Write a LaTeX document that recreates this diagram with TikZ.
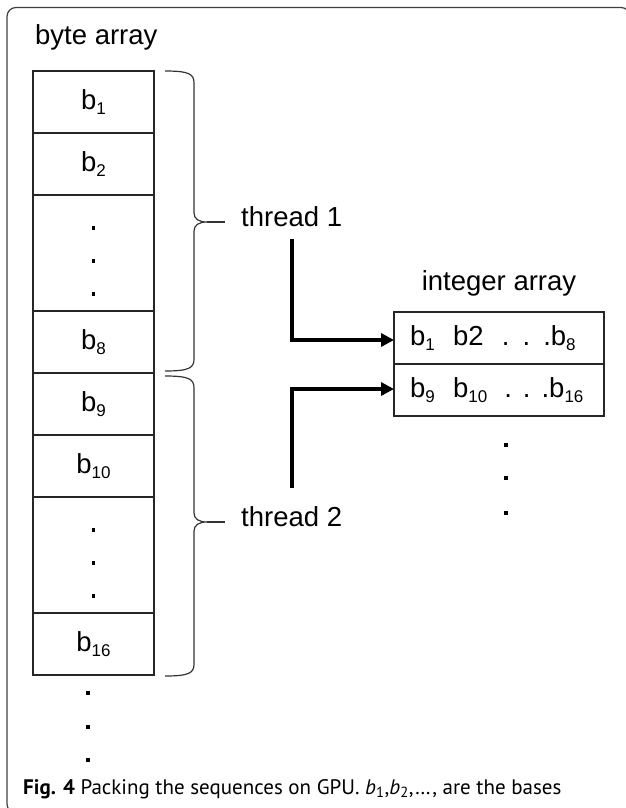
\documentclass[tikz,border=0pt]{standalone}
\usepackage{fontspec}
\setmainfont{Liberation Sans}
\newfontfamily\capfont{PT Sans}
\usetikzlibrary{positioning,arrows.meta}

% base letter with a lowered index
\newcommand{\bsub}[1]{b\raisebox{-5pt}{\fontsize{17}{17}\selectfont #1}}
% curly brace from top y to bottom y, tip at y
\newcommand{\threadbrace}[3]{%
  \draw[bracel] (165,#1) .. controls (189,#1) and (194,#1+3) .. (194,#1+12)
    -- (194,#3-9) .. controls (194,#3-3) and (199,#3) .. (207,#3)
    .. controls (199,#3) and (194,#3+3) .. (194,#3+9)
    -- (194,#2-12) .. controls (194,#2-3) and (189,#2) .. (165,#2);}

\tikzset{
  lbl/.style={font=\fontsize{27.5}{30}\selectfont, inner sep=0pt},
  cell/.style={draw=black!85, line width=1.5pt, minimum width=121pt, minimum height=62pt,
    inner sep=0pt, outer sep=0pt, font=\fontsize{27.5}{30}\selectfont},
  bigcell/.style={cell, minimum height=116pt},
  introw/.style={draw=black!85, line width=1.5pt, minimum height=52pt, text width=178pt,
    inner xsep=16pt, inner ysep=0pt, outer sep=0pt, font=\fontsize{27.5}{30}\selectfont},
  conn/.style={line width=4.2pt, -{Triangle[length=13pt,width=13pt]}},
  bracel/.style={line width=1.2pt, black!80},
  frame/.style={line width=1.2pt, black!75, rounded corners=9pt},
}

\begin{document}
\begin{tikzpicture}[x=1pt,y=-1pt]
  \useasboundingbox (0,0) rectangle (626,808);

  % Frame
  \draw[frame] (40,813) -- (7,813) -- (7,7.5) -- (630,7.5) -- (630,30);

  % Byte array
  \node[lbl, anchor=base west] (bytelbl) at (35,45) {byte array};
  \node[cell, anchor=north] (b1) at (93.5,71) {\bsub{1}};
  \node[cell, below=0pt of b1] (b2) {\bsub{2}};
  \node[bigcell, below=0pt of b2] (d1) {};
  \node[cell, below=0pt of d1] (b8) {\bsub{8}};
  \node[cell, below=0pt of b8] (b9) {\bsub{9}};
  \node[cell, below=0pt of b9] (b10) {\bsub{10}};
  \node[bigcell, below=0pt of b10] (d2) {};
  \node[cell, below=0pt of d2] (b16) {\bsub{16}};

  % Dots
  \foreach \dy in {-25,8,41} {
    \fill (d1.center) ++(-1.7,\dy-1.7) rectangle ++(3.4,3.4);
    \fill (d2.center) ++(-1.7,\dy-1.7) rectangle ++(3.4,3.4);
  }
  \foreach \dy in {18,52,85}
    \fill (b16.south) ++(-7.2,\dy-1.7) rectangle ++(3.4,3.4);

  % Integer array
  \node[introw, anchor=north west] (row1) at (394,312)
    {\mbox{\bsub{1}\ \ b2\ \ .\hspace{13pt}.\hspace{13pt}.\bsub{8}}};
  \node[introw, below=0pt of row1] (row2)
    {\mbox{\bsub{9}\ \ \bsub{10}\hspace{17pt}.\hspace{11pt}.\hspace{11pt}.\bsub{16}}};
  \node[lbl, anchor=base] (intlbl) at ([yshift=22pt]row1.north) {integer array};
  \foreach \dy in {29,62,97}
    \fill (row2.south) ++(5.3,\dy-1.7) rectangle ++(3.4,3.4);

  % Threads
  \node[lbl, anchor=base west] (th1) at (241,226) {thread 1};
  \node[lbl, anchor=base west] (th2) at (241,526) {thread 2};

  % Braces
  \threadbrace{71}{371}{222}
  \threadbrace{376}{676}{522}
  \draw[bracel] (207,222) -- ([xshift=-16pt,yshift=4pt]th1.base west);
  \draw[bracel] (207,522) -- ([xshift=-16pt,yshift=4pt]th2.base west);

  % Arrows
  \draw[conn] ([yshift=-13pt]th1.south) |- ([yshift=-2pt]row1.west);
  \draw[conn] ([yshift=18pt]th2.north) |- ([yshift=1pt]row2.west);

  % Caption
  \node[anchor=base west, inner sep=0pt, font=\capfont\fontsize{21}{24}\selectfont] (cap) at (23,794)
    {\textbf{Fig. 4} Packing the sequences on GPU. \textit{b}\textsubscript{1},\textit{b}\textsubscript{2},…, are the bases};
\end{tikzpicture}
\end{document}
